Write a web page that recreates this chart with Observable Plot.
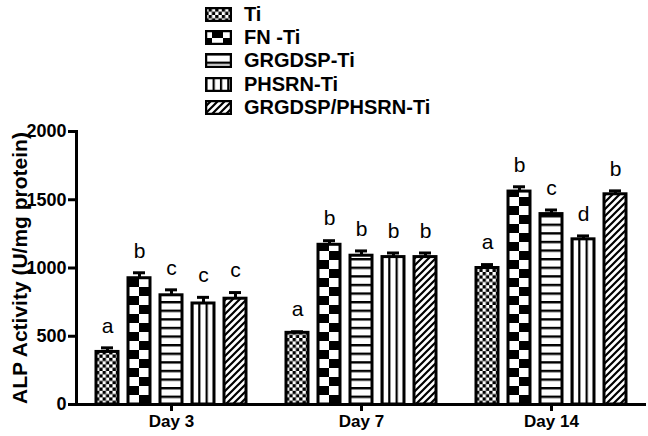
<!DOCTYPE html>
<html>
<head>
<meta charset="utf-8">
<script src="https://cdn.jsdelivr.net/npm/d3@7"></script>
<script src="https://cdn.jsdelivr.net/npm/@observablehq/plot@0.6"></script>
<style>
  body { margin: 0; background: #fff; }
  #wrap { position: relative; width: 648px; height: 436px; font-family: "Liberation Sans", Arial, sans-serif; }
  #legend { position: absolute; left: 0; top: 0; }
  .row { position: absolute; left: 205px; height: 22px; display: flex; align-items: center; white-space: nowrap; }
  .row svg { margin-right: 12px; }
  .row span { font-size: 20px; font-weight: bold; color: #000; }
</style>
</head>
<body>
<svg width="0" height="0" style="position:absolute">
  <defs>
    <pattern id="p0" patternUnits="userSpaceOnUse" width="6.6" height="6.6">
      <rect width="6.6" height="6.6" fill="white"/>
      <rect width="3.3" height="3.3" fill="black"/>
      <rect x="3.3" y="3.3" width="3.3" height="3.3" fill="black"/>
    </pattern>
    <pattern id="p1" patternUnits="userSpaceOnUse" width="22" height="18">
      <rect width="22" height="18" fill="white"/>
      <rect width="11" height="9" fill="black"/>
      <rect x="11" y="9" width="11" height="9" fill="black"/>
    </pattern>
    <pattern id="p2" patternUnits="userSpaceOnUse" width="10" height="8.6">
      <rect width="10" height="8.6" fill="white"/>
      <rect width="10" height="2.4" fill="black"/>
    </pattern>
    <pattern id="p3" patternUnits="userSpaceOnUse" width="7.7" height="10">
      <rect width="7.7" height="10" fill="white"/>
      <rect width="2.2" height="10" fill="black"/>
    </pattern>
    <pattern id="p4" patternUnits="userSpaceOnUse" width="7" height="7">
      <rect width="7" height="7" fill="white"/>
      <path d="M-1,1 l2,-2 M0,7 l7,-7 M6,8 l2,-2" stroke="black" stroke-width="2.2"/>
    </pattern>
  </defs>
</svg>
<div id="wrap">
  <div id="chart"></div>
  <div id="legend"></div>
</div>
<script>
// ---- data ----
const days = ["Day 3", "Day 7", "Day 14"];
const groups = ["Ti", "FN -Ti", "GRGDSP-Ti", "PHSRN-Ti", "GRGDSP/PHSRN-Ti"];
const day3Values = [385, 925, 800, 740, 775];
const day3Errors = [30, 40, 40, 45, 45];
const day3Letters = ["a", "b", "c", "c", "c"];
const day7Values = [525, 1170, 1090, 1080, 1080];
const day7Errors = [8, 30, 35, 30, 30];
const day7Letters = ["a", "b", "b", "b", "b"];
const day14Values = [1000, 1560, 1395, 1210, 1540];
const day14Errors = [25, 35, 30, 25, 25];
const day14Letters = ["a", "b", "c", "d", "b"];
const yTicks = [0, 500, 1000, 1500, 2000];
const patterns = ["url(#p0)", "url(#p1)", "url(#p2)", "url(#p3)", "url(#p4)"];

const series = [
  [day3Values, day3Errors, day3Letters],
  [day7Values, day7Errors, day7Letters],
  [day14Values, day14Errors, day14Letters]
];
const data = [];
days.forEach((day, i) => {
  const [vals, errs, lets] = series[i];
  groups.forEach((g, j) => data.push({day, group: g, value: vals[j], err: errs[j], letter: lets[j]}));
});

const font = '"Liberation Sans", Arial, sans-serif';
const plot = Plot.plot({
  width: 648,
  height: 436,
  marginLeft: 76,
  marginRight: 2,
  marginTop: 131,
  marginBottom: 32,
  style: {fontFamily: font, color: "black", background: "white"},
  fx: {domain: days, padding: 0, label: null},
  x: {domain: groups, paddingInner: 0.3, paddingOuter: 0.53, axis: null},
  y: {domain: [0, 2000]},
  color: {type: "ordinal", domain: groups, range: patterns},
  marks: [
    Plot.ruleX(data, {fx: "day", x: "group", y1: "value", y2: d => d.value + d.err, stroke: "black", strokeWidth: 3}),
    Plot.barY(data, {fx: "day", x: "group", y: "value", fill: "group", stroke: "black", strokeWidth: 3}),
    Plot.tickY(data, {fx: "day", x: "group", y: d => d.value + d.err, stroke: "black", strokeWidth: 3, insetLeft: 5, insetRight: 5}),
    Plot.text(data, {fx: "day", x: "group", y: d => d.value + d.err, text: "letter", dy: -22, fontSize: 21, fill: "black"}),
    Plot.ruleY([0], {stroke: "black", strokeWidth: 3}),
    Plot.frame({anchor: "left", facetAnchor: "left", stroke: "black", strokeWidth: 3}),
    Plot.axisY({ticks: yTicks, tickSize: 8, tickPadding: 2, strokeWidth: 3, fontSize: 18, fontWeight: "bold", label: null, tickFormat: d => String(d)}),
    Plot.axisY({ticks: [], tickSize: 0, fontSize: 21, fontWeight: "bold", label: "ALP Activity (U/mg protein)", labelAnchor: "center", labelOffset: 64, labelArrow: "none"}),
    Plot.axisFx({anchor: "bottom", tickSize: 7, tickPadding: 3, strokeWidth: 3, fontSize: 17, fontWeight: "bold", label: null})
  ]
});
document.getElementById("chart").appendChild(plot);

// align pattern tiles with the bars (styling only)
function alignPattern(id, fillUrl, opts = {}) {
  const r = plot.querySelector(`rect[fill="${fillUrl}"]`);
  if (!r) return;
  const x = +r.getAttribute("x"), w = +r.getAttribute("width");
  const p = document.getElementById(id);
  if (opts.cols) {
    const cw = w / opts.cols;
    p.setAttribute("width", 2 * cw);
    p.querySelectorAll("rect")[0].setAttribute("width", 2 * cw);
    p.querySelectorAll("rect")[1].setAttribute("width", cw);
    p.querySelectorAll("rect")[2].setAttribute("width", cw);
    p.querySelectorAll("rect")[2].setAttribute("x", cw);
  }
  if (opts.vlines) {
    const cw = w / opts.vlines;
    p.setAttribute("width", cw);
    p.querySelectorAll("rect")[0].setAttribute("width", cw);
    p.setAttribute("x", x - 1.1);
    return;
  }
  p.setAttribute("x", x);
  p.setAttribute("y", 404);
}
alignPattern("p0", "url(#p0)");
alignPattern("p1", "url(#p1)", {cols: 2});
alignPattern("p3", "url(#p3)", {vlines: 3});

// legend
const legend = document.getElementById("legend");
const rowCenters = [14, 37, 60, 84, 107];
groups.forEach((g, i) => {
  const row = document.createElement("div");
  row.className = "row";
  row.style.top = (rowCenters[i] - 11) + "px";
  row.innerHTML = `<svg width="27" height="15"><rect x="1" y="1" width="25" height="13" fill="${patterns[i]}" stroke="black" stroke-width="2.5"/></svg><span>${g}</span>`;
  legend.appendChild(row);
});
</script>
</body>
</html>
